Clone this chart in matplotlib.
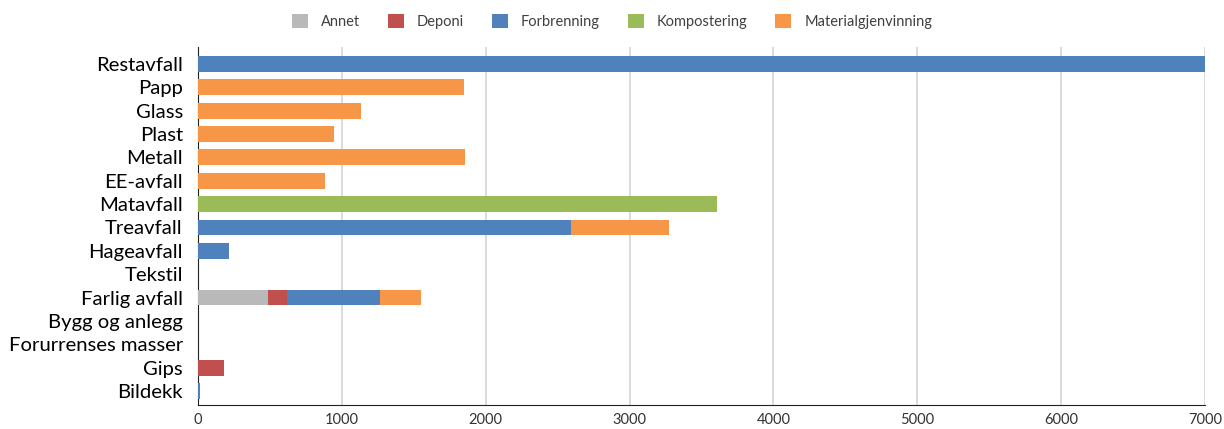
import matplotlib.pyplot as plt
import numpy as np

plt.rcParams['font.family'] = ['Lato', 'DejaVu Sans']

kategorier = ['Restavfall', 'Papp', 'Glass', 'Plast', 'Metall', 'EE-avfall',
              'Matavfall', 'Treavfall', 'Hageavfall', 'Tekstil', 'Farlig avfall',
              'Bygg og anlegg', 'Forurrenses masser', 'Gips', 'Bildekk']

annet = [0, 0, 0, 0, 0, 0, 0, 0, 0, 0, 488, 0, 0, 0, 0]
deponi = [0, 0, 0, 0, 0, 0, 0, 0, 0, 0, 127, 0, 0, 179, 0]
forbrenning = [7000, 0, 0, 0, 0, 0, 0, 2592, 216, 0, 648, 0, 0, 0, 17]
kompostering = [0, 0, 0, 0, 0, 0, 3608, 0, 0, 0, 0, 0, 0, 0, 0]
materialgjenvinning = [0, 1847, 1136, 943, 1857, 884, 0, 683, 0, 0, 284, 0, 0, 0, 0]

serier = [
    ('Annet', annet, '#B9B9B9'),
    ('Deponi', deponi, '#C0504D'),
    ('Forbrenning', forbrenning, '#4F81BD'),
    ('Kompostering', kompostering, '#9BBB59'),
    ('Materialgjenvinning', materialgjenvinning, '#F79646'),
]

fig = plt.figure(figsize=(12.24, 4.29), dpi=100)
ax = fig.add_axes([0.1618, 0.056, 0.8227, 0.834])

y = np.arange(len(kategorier))
venstre = np.zeros(len(kategorier))
for navn, verdier, farge in serier:
    ax.barh(y, verdier, left=venstre, height=0.68, color=farge, label=navn, zorder=3)
    venstre += np.array(verdier)

ax.set_xlim(0, 7000)
ax.set_ylim(14.6, -0.72)
ax.set_xticks(range(0, 7001, 1000))
ax.set_yticks(y)
ax.set_yticklabels(kategorier, fontsize=14.6)
ax.tick_params(axis='x', labelsize=10.5, length=0, pad=6, labelcolor='#333333')
ax.tick_params(axis='y', length=0, pad=11)
ax.xaxis.grid(True, color='#D4D4D4', linewidth=1.2, zorder=0)

for side in ['top', 'right']:
    ax.spines[side].set_visible(False)
ax.spines['left'].set_color('#222222')
ax.spines['bottom'].set_color('#222222')

leg = fig.legend(loc='center', bbox_to_anchor=(0.5, 0.95), ncol=5, frameon=False,
                 fontsize=10.5, handlelength=1.1, handleheight=1.1, columnspacing=1.9,
                 handletextpad=0.9)
for tekst in leg.get_texts():
    tekst.set_color('#404040')

fig.savefig('out.png', dpi=100)
